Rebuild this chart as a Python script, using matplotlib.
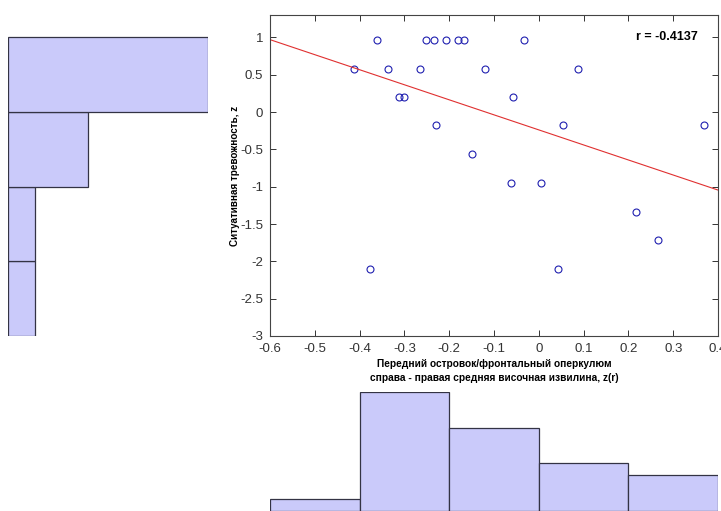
import numpy as np
import matplotlib
matplotlib.use("Agg")
import matplotlib.pyplot as plt

plt.rcParams['font.family'] = ['Liberation Sans', 'DejaVu Sans']

# data
x_vals = [-0.413, -0.376, -0.361, -0.337, -0.313, -0.301, -0.266, -0.251, -0.234,
          -0.229, -0.207, -0.181, -0.167, -0.149, -0.120, -0.063, -0.057, -0.033,
          0.004, 0.043, 0.054, 0.087, 0.216, 0.266, 0.368]
y_vals = [0.58, -2.10, 0.97, 0.58, 0.20, 0.20, 0.58, 0.97, 0.97,
          -0.18, 0.97, 0.97, 0.97, -0.56, 0.58, -0.955, 0.20, 0.97,
          -0.955, -2.10, -0.18, 0.58, -1.34, -1.72, -0.18]
fit_slope = -2.015
fit_icpt = -0.239
r_text = "r = -0.4137"
x_bins = [-0.6, -0.4, -0.2, 0.0, 0.2, 0.4]
y_bins = [-3, -2, -1, 0, 1]
x_ticks = [-0.6, -0.5, -0.4, -0.3, -0.2, -0.1, 0, 0.1, 0.2, 0.3, 0.4]
y_ticks = [-3, -2.5, -2, -1.5, -1, -0.5, 0, 0.5, 1]
xlab = "Передний островок/фронтальный оперкулюм\nсправа - правая средняя височная извилина, z(r)"
ylab = "Ситуативная тревожность, z"

W, H = 721, 511
fig = plt.figure(figsize=(W / 100, H / 100), dpi=100)

def px(l, t, r, b):
    return [l / W, 1 - b / H, (r - l) / W, (b - t) / H]

bar_fc = '#CACAFA'
bar_ec = '#333344'

# main scatter
ax = fig.add_axes(px(270, 15, 718, 336))
ax.plot(x_vals, y_vals, 'o', mfc='none', mec='#2020B0', ms=5, mew=0.8)
lx = np.array([-0.6, 0.4])
ax.plot(lx, fit_icpt + fit_slope * lx, color='#E03030', lw=0.8)
ax.text(0.355, 1.0, r_text, ha='right', va='center', fontsize=9, fontweight='bold')
ax.set_xlim(-0.6, 0.4)
ax.set_ylim(-3, 1.3)
ax.set_xticks(x_ticks)
ax.set_xticklabels(['%g' % v for v in x_ticks])
ax.set_yticks(y_ticks)
ax.set_yticklabels(['%g' % v for v in y_ticks])
ax.tick_params(direction='in', top=True, right=True, length=4, width=0.7,
               labelsize=9.5, colors='#333333', pad=5)
for s in ax.spines.values():
    s.set_linewidth(0.8)
    s.set_color('#444444')
ax.set_xlabel(xlab, fontsize=7.3, fontweight='bold', labelpad=3, linespacing=1.45)
ax.set_ylabel(ylab, fontsize=7.1, fontweight='bold', labelpad=0)

# left histogram (y)
axl = fig.add_axes(px(8, 15, 208, 336))
axl.hist(y_vals, bins=y_bins, orientation='horizontal', color=bar_fc,
         edgecolor=bar_ec, linewidth=0.9)
axl.set_xlim(0, 15)
axl.set_ylim(-3, 1.3)
axl.axis('off')

# bottom histogram (x)
axb = fig.add_axes(px(270, 392, 718, 511))
axb.hist(x_vals, bins=x_bins, color=bar_fc, edgecolor=bar_ec, linewidth=0.9)
axb.set_xlim(-0.6, 0.4)
axb.set_ylim(0, 10)
axb.axis('off')

fig.savefig('out.png', dpi=100)
